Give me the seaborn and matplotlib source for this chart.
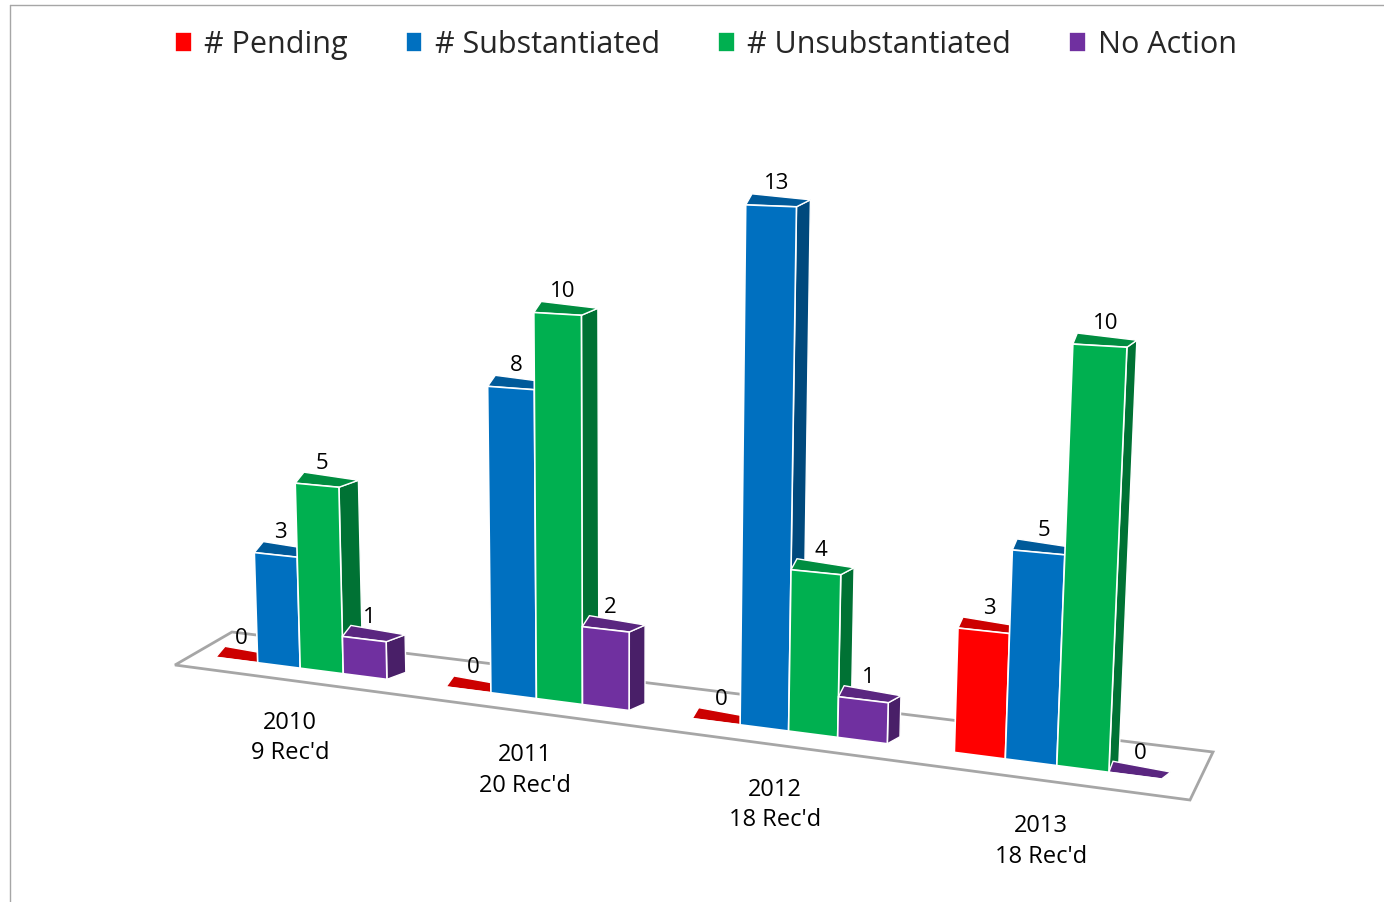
import numpy as np
import pandas as pd
import seaborn as sns
import matplotlib
matplotlib.use("Agg")
import matplotlib.pyplot as plt
from matplotlib.patches import Polygon
from matplotlib.transforms import Affine2D, Transform, IdentityTransform
from matplotlib.lines import Line2D
import matplotlib.colors as mcolors

# ---- data ----
years = ["2010", "2011", "2012", "2013"]
received = ["9 Rec'd", "20 Rec'd", "18 Rec'd", "18 Rec'd"]
statuses = ["# Pending", "# Substantiated", "# Unsubstantiated", "No Action"]
pending = [0, 0, 0, 3]
substantiated = [3, 8, 13, 5]
unsubstantiated = [5, 10, 4, 10]
no_action = [1, 2, 1, 0]
colors = ["#FF0000", "#0070C0", "#00B050", "#7030A0"]

series = [pending, substantiated, unsubstantiated, no_action]
df = pd.DataFrame(
    [(y, st, v) for st, vals in zip(statuses, series) for y, v in zip(years, vals)],
    columns=["year", "status", "count"],
)

sns.set_theme(style="white")
plt.rcParams["font.family"] = ["Open Sans", "DejaVu Sans"]

W, H = 1384, 902
fig = plt.figure(figsize=(W / 100, H / 100), dpi=100)

XL = (-0.6, 3.6)
YL = (0, 14)
UNIT_X = 252.2
UY0 = 40.0
ax_px = (292.2 - 0.6 * UNIT_X, 209.0, 4.2 * UNIT_X, 14 * UY0)
ax = fig.add_axes([ax_px[0] / W, ax_px[1] / H, ax_px[2] / W, ax_px[3] / H])

sns.barplot(data=df, x="year", y="count", hue="status", hue_order=statuses,
            order=years, palette=colors, width=0.75, saturation=1,
            edgecolor="white", linewidth=1.2, ax=ax, zorder=3)

handles, labels = ax.get_legend_handles_labels()
if ax.get_legend() is not None:
    ax.get_legend().remove()
ax.set_xlim(*XL)
ax.set_ylim(*YL)
ax.axis("off")


class Perspective(Transform):
    """Display-space warp giving the flat seaborn chart a 3-D look."""
    input_dims = 2
    output_dims = 2
    is_separable = False
    has_inverse = False

    def transform_non_affine(self, values):
        v = np.asarray(values, dtype=float).reshape(-1, 2)
        u, Y = v[:, 0], v[:, 1]
        Xp = u + 1.258e-4 * (u - 670.5) ** 2 - 10.0
        k = 36.8 + 0.0068 * (Xp - 270.0)
        hpx = (Y - ax_px[1]) / UY0 * k
        base = 693.0 + 0.1287 * (Xp - 493.0)
        lean = -0.027 + 8.6e-5 * (Xp - 300.0)
        xf = Xp + lean * hpx
        yf = H - (base - hpx)
        return np.column_stack([xf, yf])


full = ax.transData + Perspective()


def pt(x, y):
    return np.asarray(full.transform(np.array([[x, y]], dtype=float))).reshape(-1)[:2]


def shade(c, f):
    r, g, b, a = mcolors.to_rgba(c)
    return (r * f, g * f, b * f, 1)


# floor (background decoration, pixel space)
floor_img = [(175, 665), (1190, 800), (1213, 752), (232, 632)]
floor = Polygon([(x, H - y) for x, y in floor_img], closed=True, facecolor="white",
                edgecolor="#A6A6A6", lw=2, transform=IdentityTransform(), zorder=1,
                clip_on=False)
ax.add_patch(floor)

bars = sorted([p for c in ax.containers for p in c], key=lambda p: p.get_x())
lab_t = full + Affine2D().translate(0, 12)
for p in bars:
    x0, w, h = p.get_x(), p.get_width(), p.get_height()
    fc = p.get_facecolor()
    p.set_transform(full)
    p.set_clip_on(False)
    bl, br = pt(x0, 0), pt(x0 + w, 0)
    tl, tr = pt(x0, h), pt(x0 + w, h)
    dxr = 20 - 0.0125 * (br[0] - 300)
    dxl = 0.45 * dxr
    offr = np.array([dxr, 7.0])
    offl = np.array([dxl, 11.0])
    if h > 0:
        side = Polygon([br, br + offr, tr + offr, tr], closed=True,
                       facecolor=shade(fc, 0.65), edgecolor="white", lw=1,
                       transform=IdentityTransform(), zorder=2.5, clip_on=False)
        ax.add_patch(side)
    top = Polygon([tl, tr, tr + offr, tl + offl], closed=True,
                  facecolor=shade(fc, 0.8), edgecolor="white", lw=1,
                  transform=IdentityTransform(), zorder=2.6, clip_on=False)
    ax.add_patch(top)
    ax.text(x0 + w / 2 + 0.02, h, f"{int(round(h))}", transform=lab_t,
            ha="center", va="bottom", fontsize=16, color="black", zorder=5)

ax.set_xlim(*XL)
ax.set_ylim(*YL)

for i, (yr, rc) in enumerate(zip(years, received)):
    ax.text(i - 0.05, -1.2, f"{yr}\n{rc}", transform=full, ha="center", va="top",
            fontsize=17, linespacing=1.35, color="black")

fig.legend(handles, labels, loc="center", bbox_to_anchor=(0.51, 1 - 45 / H), ncol=4,
           frameon=False, fontsize=22, handlelength=0.55, handleheight=0.65,
           handletextpad=0.4, columnspacing=1.9)

fig.add_artist(Line2D([10 / W, 1], [1 - 5 / H, 1 - 5 / H], color="#A6A6A6", lw=1))
fig.add_artist(Line2D([10 / W, 10 / W], [0, 1 - 5 / H], color="#A6A6A6", lw=1))

fig.savefig("out.png", dpi=100)
